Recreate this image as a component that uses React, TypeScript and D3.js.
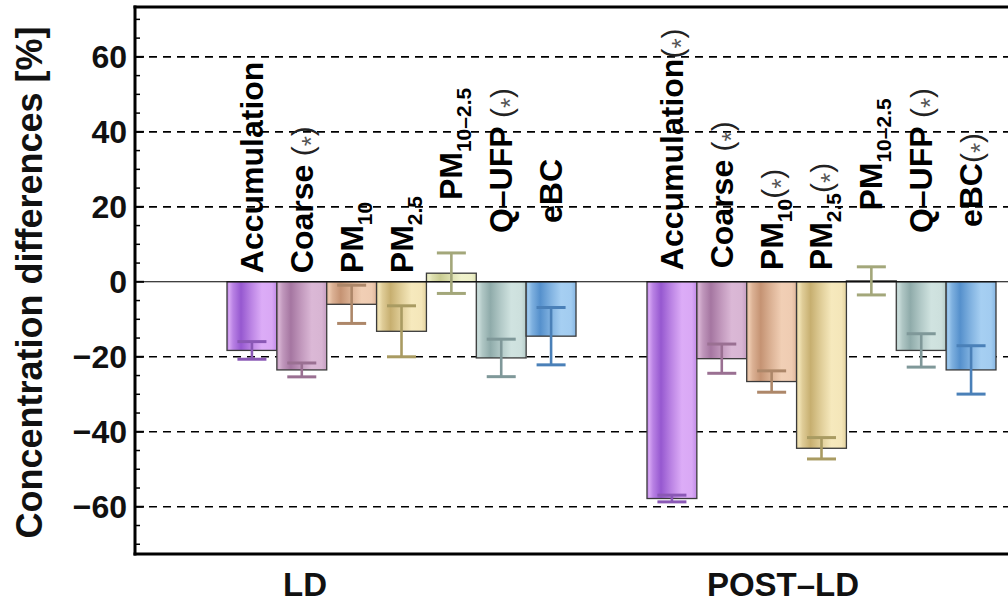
import React from 'react';
import * as d3 from 'd3';

const groups = ['LD', 'POST-LD'];
const groupLabels = ['LD', 'POST\u2013LD'];
const categories = ['Accumulation', 'Coarse', 'PM10', 'PM2.5', 'PM10-2.5', 'Q-UFP', 'eBC'];
const labelMain = ['Accumulation', 'Coarse', 'PM', 'PM', 'PM', 'Q\u2013UFP', 'eBC'];
const labelSub = ['', '', '10', '2.5', '10\u20132.5', '', ''];
const starSpaced = [false, true, false, false, false, true, false];

const ldValues = [-18.3, -23.5, -6.0, -13.2, 2.3, -20.3, -14.5];
const ldErrors = [2.35, 1.85, 5.1, 6.8, 5.4, 5.0, 7.65];
const ldSignificant = [false, true, false, false, false, true, false];

const postValues = [-57.8, -20.5, -26.6, -44.4, 0.25, -18.3, -23.5];
const postErrors = [0.9, 3.9, 2.85, 2.85, 3.75, 4.45, 6.45];
const postSignificant = [true, true, true, true, false, true, true];

const yTicks = [-60, -40, -20, 0, 20, 40, 60];
const yMinorTicks = [-70, -65, -55, -50, -45, -35, -30, -25, -15, -10, -5, 5, 10, 15, 25, 30, 35, 45, 50, 55, 65, 70];
const yLabel = 'Concentration differences [%]';

const barDark = ['#9658d0', '#a576a1', '#c59373', '#c7af70', '#c9cc92', '#8fabaa', '#5590cc'];
const barLight = ['#dcacf7', '#dbb8d6', '#f1cfb5', '#f6e9bd', '#f0f2cc', '#d0e3e0', '#a6cff2'];
const errColor = ['#8a58b5', '#9a7092', '#ad8769', '#a99b62', '#a3a77a', '#7f9899', '#4a80b8'];

// layout (label anchor levels, in data units)
const ldLabelBase = [2.3, 2.3, 2.3, 2.3, 21.8, 13, 15.7];
const postLabelBase = [3.1, 3.6, 3.1, 3.1, 19, 13, 14.6];
const groupLabelOffset = [78, 136];

const W = 1008, H = 604;
const left = 135, right = 1012, top = 7, bottom = 554;
const FONT = '"Liberation Sans", Arial, Helvetica, sans-serif';

const gradStops: [number, number][] = [
  [0, 0.55], [0.05, 0.9], [0.12, 0.5], [0.28, 0.0], [0.5, 0.55], [0.7, 1.0], [0.9, 0.95], [1, 0.6],
];

export default function App() {
  const y = d3.scaleLinear().domain([-72.6, 73.3]).range([bottom, top]);
  const xg = d3.scaleBand<string>().domain(groups).range([227, 996]).paddingInner(0.169).paddingOuter(0);
  const xi = d3.scaleBand<string>().domain(categories).range([0, xg.bandwidth()]).padding(0);
  const bw = xi.bandwidth();

  const series = [
    { g: groups[0], values: ldValues, errors: ldErrors, sig: ldSignificant, base: ldLabelBase },
    { g: groups[1], values: postValues, errors: postErrors, sig: postSignificant, base: postLabelBase },
  ];

  return (
    <svg width={W} height={H} style={{ position: 'absolute', left: 0, top: 0, background: '#fff' }}
      fontFamily={FONT}>
      <defs>
        {categories.map((c, i) => {
          const interp = d3.interpolateRgb(barDark[i], barLight[i]);
          return (
            <linearGradient key={c} id={`grad${i}`} x1="0" x2="1" y1="0" y2="0">
              {gradStops.map(([o, t], k) => (
                <stop key={k} offset={o} stopColor={interp(t)} />
              ))}
            </linearGradient>
          );
        })}
      </defs>

      {/* dashed grid */}
      {yTicks.filter(t => t !== 0).map(t => (
        <line key={t} x1={left} x2={right} y1={y(t)} y2={y(t)} stroke="#000" strokeWidth={1.6} strokeDasharray="8,6" />
      ))}

      {/* bars */}
      {series.map(s => (
        <g key={s.g}>
          {categories.map((c, i) => {
            const x0 = (xg(s.g) as number) + (xi(c) as number);
            const v = s.values[i];
            const y0 = y(Math.max(0, v));
            const h = Math.abs(y(v) - y(0));
            return (
              <rect key={c} x={x0} y={y0} width={bw} height={h} fill={`url(#grad${i})`} stroke="#3a3a3a" strokeWidth={1.3} />
            );
          })}
        </g>
      ))}

      {/* zero line */}
      <line x1={left} x2={right} y1={y(0)} y2={y(0)} stroke="#000" strokeWidth={1.1} />

      {/* error bars */}
      {series.map(s => (
        <g key={s.g + 'e'}>
          {categories.map((c, i) => {
            const cx = (xg(s.g) as number) + (xi(c) as number) + bw / 2;
            const v = s.values[i], e = s.errors[i];
            const yt = y(v + e), yb = y(v - e);
            const cw = 14.5;
            return (
              <g key={c} stroke={errColor[i]} strokeWidth={3}>
                <line x1={cx} x2={cx} y1={yt} y2={yb} strokeWidth={2.6} />
                <line x1={cx - cw} x2={cx + cw} y1={yt} y2={yt} />
                <line x1={cx - cw} x2={cx + cw} y1={yb} y2={yb} />
              </g>
            );
          })}
        </g>
      ))}

      {/* bar labels */}
      {series.map(s => (
        <g key={s.g + 'l'}>
          {categories.map((c, i) => {
            const cx = (xg(s.g) as number) + (xi(c) as number) + bw / 2;
            const bx = cx + 11;
            const by = y(s.base[i]);
            return (
              <text key={c} transform={`translate(${bx},${by}) rotate(-90)`} fontSize={32} fontWeight="bold" fill="#000">
                <tspan>{labelMain[i]}</tspan>
                {labelSub[i] && <tspan fontSize={21} dy={9}>{labelSub[i]}</tspan>}
                {s.sig[i] && (
                  <tspan fontWeight="normal" fill="#222" fontSize={30} dy={labelSub[i] ? -9 : 0}>
                    {starSpaced[i] ? '\u00a0(' : '('}
                    <tspan fill="#555" fontSize={26} dy={7}>*</tspan>
                    <tspan dy={-7}>)</tspan>
                  </tspan>
                )}
              </text>
            );
          })}
        </g>
      ))}

      {/* frame */}
      <line x1={left} x2={left} y1={top - 1.5} y2={bottom + 1.5} stroke="#000" strokeWidth={3} />
      <line x1={left - 1.5} x2={right} y1={top} y2={top} stroke="#000" strokeWidth={3} />
      <line x1={left - 1.5} x2={right} y1={bottom} y2={bottom} stroke="#000" strokeWidth={3} />

      {/* y ticks */}
      {yTicks.map(t => (
        <g key={t}>
          <line x1={left} x2={left + 9} y1={y(t)} y2={y(t)} stroke="#000" strokeWidth={2} />
          <text x={127} y={y(t)} dy="0.36em" textAnchor="end" fontSize={32} fontWeight="bold" fill="#111">
            {t < 0 ? `\u2212${Math.abs(t)}` : `${t}`}
          </text>
        </g>
      ))}
      {yMinorTicks.map(t => (
        <line key={t} x1={left} x2={left + 5} y1={y(t)} y2={y(t)} stroke="#000" strokeWidth={1.5} />
      ))}

      {/* y label */}
      <text transform={`translate(42,${(top + bottom) / 2 + 2}) rotate(-90)`} textAnchor="middle" fontSize={36} fontWeight="bold" fill="#111">
        {yLabel}
      </text>

      {/* group labels */}
      {groups.map((g, k) => (
        <text key={g} x={(xg(g) as number) + groupLabelOffset[k]} y={596} textAnchor="middle" fontSize={33} fontWeight="bold" fill="#111">
          {groupLabels[k]}
        </text>
      ))}
    </svg>
  );
}
